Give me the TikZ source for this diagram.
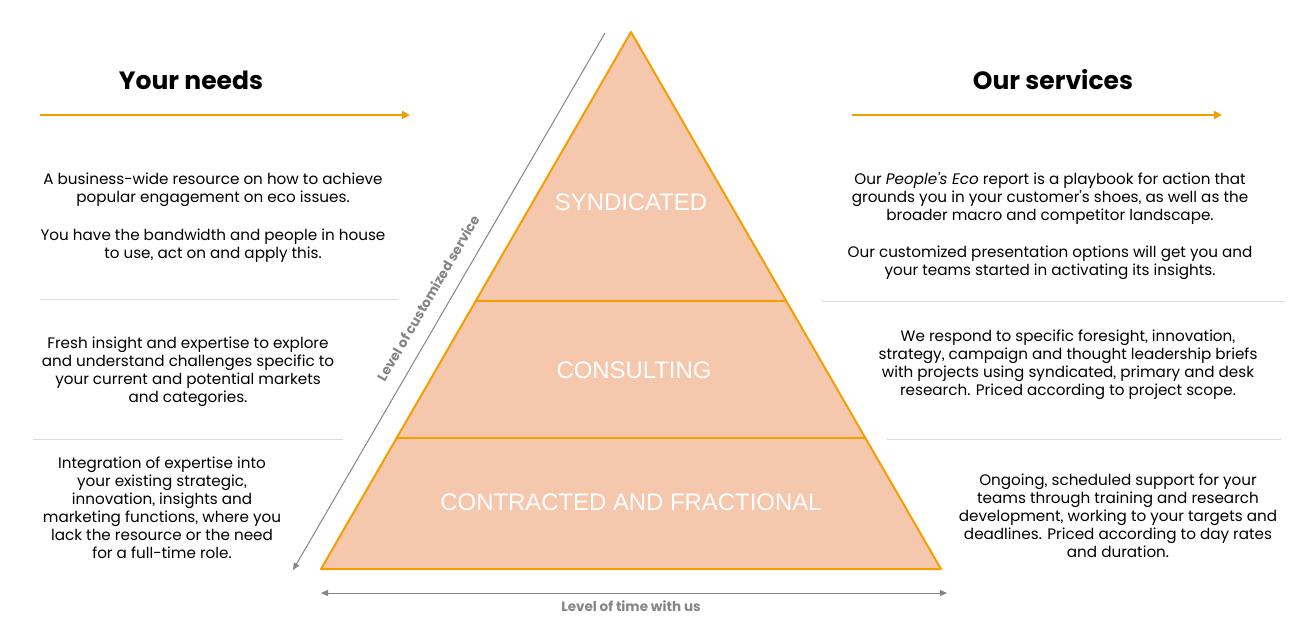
\documentclass[tikz,border=0pt]{standalone}
\usepackage{fontspec}
\setmainfont{Poppins}[RawFeature=+ss01]
\newfontfamily\tierfont{Liberation Sans}
\usetikzlibrary{arrows.meta,positioning,calc}

\definecolor{ecoorange}{HTML}{F59E00}
\definecolor{ecofill}{HTML}{F5C7AD}
\definecolor{ecogray}{HTML}{858585}
\definecolor{ecorule}{HTML}{DCDCDC}

\tikzset{
    bodytext/.style={align=center, inner sep=0pt, font=\fontsize{15.2}{18}\selectfont},
    heading/.style={inner sep=0pt, font=\fontsize{25}{28}\selectfont\bfseries},
    tierlabel/.style={inner sep=0pt, text=white, font=\tierfont\fontsize{23.9}{28}\selectfont},
    orangearrow/.style={ecoorange, line width=2pt, -{Triangle[length=8pt,width=8pt]}},
    seprule/.style={ecorule, line width=0.8pt},
    axisline/.style={ecogray, line width=1pt},
    axislabel/.style={inner sep=0pt, text=ecogray, font=\fontsize{13.5}{15}\selectfont\bfseries}
}

\begin{document}
\begin{tikzpicture}[x=1pt,y=-1pt]
    \useasboundingbox (0,0) rectangle (1314,642);

    % Pyramid
    \coordinate (apex) at (631,32);
    \coordinate (baseL) at (321,569);
    \coordinate (baseR) at (941,569);
    \filldraw[fill=ecofill, draw=ecoorange, line width=2pt, line join=round] (apex) -- (baseR) -- (baseL) -- cycle;
    \foreach \f/\name in {0.501/upper, 0.756/lower} {
        \draw[ecoorange, line width=2pt] ($(apex)!\f!(baseL)$) coordinate (\name L) -- ($(apex)!\f!(baseR)$) coordinate (\name R);
    }

    % Tier labels
    \node[tierlabel] (syndicated) at (631,202) {SYNDICATED};
    \node[tierlabel] (consulting) at (634,370) {CONSULTING};
    \node[tierlabel] (contracted) at (631,502) {CONTRACTED AND FRACTIONAL};

    % Axes
    \coordinate (custTop) at (605,33);
    \coordinate (custBot) at (293,570);
    \draw[axisline, -{Triangle[length=7pt,width=6pt]}] (custTop) -- (custBot);
    \node[axislabel, rotate=59.8] (custlabel) at (428,298) {Level of customized service};

    \coordinate (timeL) at (321,593);
    \coordinate (timeR) at (947,593);
    \draw[axisline, {Triangle[length=7pt,width=6pt]}-{Triangle[length=7pt,width=6pt]}] (timeL) -- (timeR);
    \node[axislabel] (timelabel) at (631,606) {Level of time with us};

    % Headings
    \node[heading] (needs) at (191,80) {Your needs};
    \node[heading] (services) at (1053,80) {Our services};
    \coordinate (needsA) at (40,115);
    \coordinate (needsB) at (410,115);
    \coordinate (servA) at (852,115);
    \coordinate (servB) at (1222,115);
    \draw[orangearrow] (needsA) -- (needsB);
    \draw[orangearrow] (servA) -- (servB);

    % Separators
    \foreach \xa/\xb/\y in {40/398/299, 33/343/439, 822/1285/301, 887/1281/439} {
        \draw[seprule] (\xa,\y) -- (\xb,\y);
    }

    % Your needs
    \node[bodytext] (need1) at (213,218) {A business-wide resource on how to achieve\\
        popular engagement on eco issues.\\[20pt]
        You have the bandwidth and people in house\\
        to use, act on and apply this.};
    \node[bodytext] (need2) at (188,372) {Fresh insight and expertise to explore\\
        and understand challenges specific to\\
        your current and potential markets\\
        and categories.};
    \node[bodytext] (need3) at (162,508) {Integration of expertise into\\
        your existing strategic,\\
        innovation, insights and\\
        marketing functions, where you\\
        lack the resource or the need\\
        for a full-time role.};

    % Our services
    \node[bodytext] (serv1) at (1050,226) {Our \textit{People’s Eco} report is a playbook for action that\\
        grounds you in your customer’s shoes, as well as the\\
        broader macro and competitor landscape.\\[19pt]
        Our customized presentation options will get you and\\
        your teams started in activating its insights.};
    \node[bodytext] (serv2) at (1068,365) {We respond to specific foresight, innovation,\\
        strategy, campaign and thought leadership briefs\\
        with projects using syndicated, primary and desk\\
        research. Priced according to project scope.};
    \node[bodytext] (serv3) at (1118,516) {Ongoing, scheduled support for your\\
        teams through training and research\\
        development, working to your targets and\\
        deadlines. Priced according to day rates\\
        and duration.};
\end{tikzpicture}
\end{document}
